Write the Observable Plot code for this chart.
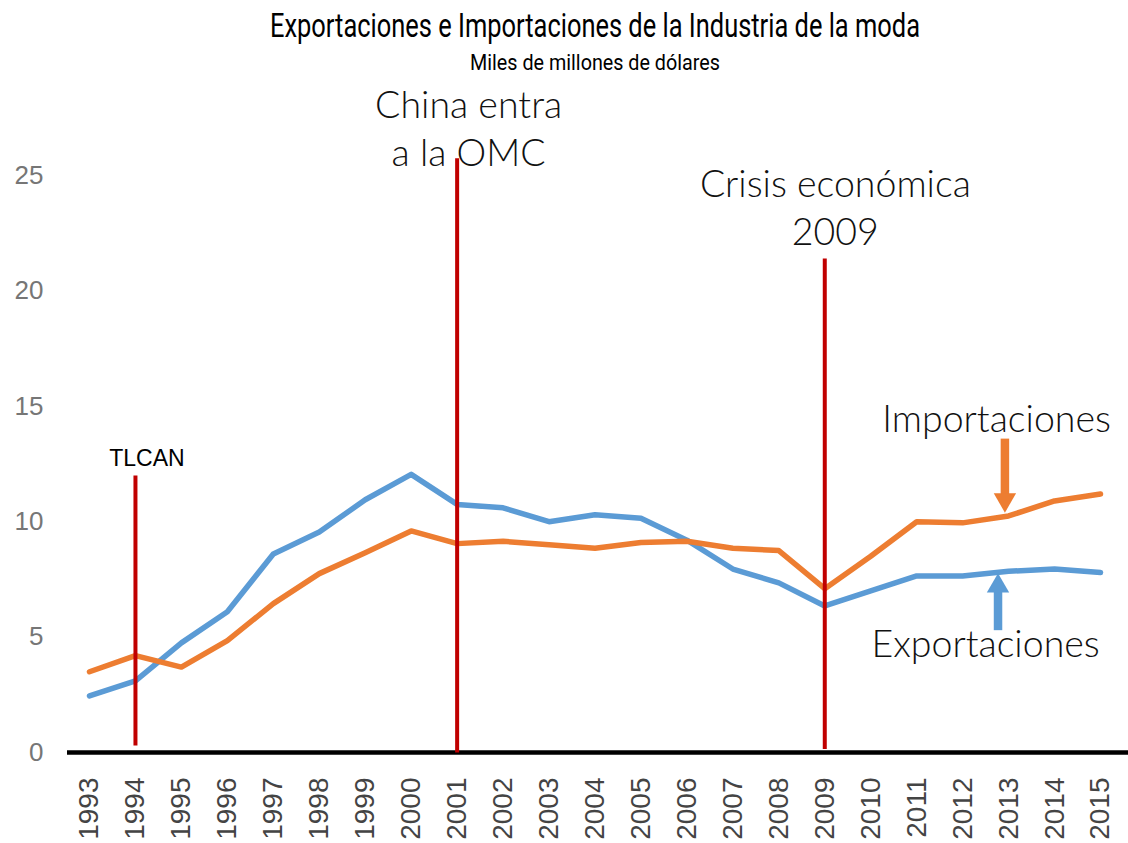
<!DOCTYPE html>
<html><head><meta charset="utf-8">
<script src="https://cdn.jsdelivr.net/npm/d3@7"></script>
<script src="https://cdn.jsdelivr.net/npm/@observablehq/plot@0.6"></script>
<style>
body{margin:0;background:#fff;}
#head{position:relative;width:1128px;height:80px;overflow:visible;}
.t{position:absolute;white-space:nowrap;transform-origin:0 0;color:#000;}
#title{font-family:Roboto,"Liberation Sans",sans-serif;font-weight:400;font-size:34px;line-height:34px;}
#sub{font-family:Roboto,"Liberation Sans",sans-serif;font-weight:400;font-size:22px;line-height:22px;}
#chart svg{display:block;}
</style></head><body>
<div id="head"><span id="title" class="t">Exportaciones e Importaciones de la Industria de la moda</span><span id="sub" class="t">Miles de millones de dólares</span></div>
<div id="chart"></div>
<script>
const years = [1993,1994,1995,1996,1997,1998,1999,2000,2001,2002,2003,2004,2005,2006,2007,2008,2009,2010,2011,2012,2013,2014,2015];
const exportaciones = [2.45,3.1,4.75,6.1,8.6,9.55,10.95,12.05,10.75,10.6,10.0,10.3,10.15,9.2,7.95,7.35,6.35,7.0,7.65,7.65,7.85,7.95,7.8];
const importaciones = [3.5,4.2,3.7,4.85,6.45,7.75,8.65,9.6,9.05,9.15,9.0,8.85,9.1,9.15,8.85,8.75,7.1,8.5,10.0,9.95,10.25,10.9,11.2];
const yTicks = [0,5,10,15,20,25];

const eventYears = [1994, 2001, 2009];
const eventTop = [12.0, 25.75, 21.4];
const eventBottom = [0.3, 0, 0.15];

const noteText = ["TLCAN", "China entra\na la OMC", "Crisis económica\n2009", "Importaciones", "Exportaciones"];
const noteX = [1994.25, 2001.25, 2009.23, 2012.74, 2012.5];
const noteY = [12.43, 25.4, 22.0, 13.9, 4.15];

const arrowX = [2012.92, 2012.77];
const arrowFrom = [13.6, 5.3];
const arrowTo = [10.4, 7.76];
const arrowColor = ["#ed7d31", "#5b9bd5"];

function fit(id, cx, top, w){
  const el = document.getElementById(id);
  const nat = el.getBoundingClientRect().width;
  el.style.left = (cx - w/2) + "px";
  el.style.top = top + "px";
  el.style.transform = `scaleX(${w/nat})`;
}
fit("title", 595, 8.4, 650);
fit("sub", 595, 51.5, 250);

const exp = years.map((y,i)=>({year:y, value:exportaciones[i]}));
const imp = years.map((y,i)=>({year:y, value:importaciones[i]}));
const events = eventYears.map((y,i)=>({year:y, top:eventTop[i], bottom:eventBottom[i]}));
const notes = noteText.map((t,i)=>({text:t, x:noteX[i], y:noteY[i]}));
const arrows = arrowX.map((x,i)=>({x, from:arrowFrom[i], to:arrowTo[i], color:arrowColor[i], down: arrowTo[i] < arrowFrom[i]}));

const lightFont = "Lato, 'Open Sans', sans-serif";

const chart = Plot.plot({
  width: 1128, height: 763,
  marginLeft: 89, marginRight: 28, marginTop: 95, marginBottom: 91,
  x: {domain: [1993, 2015]},
  y: {domain: [0, 25]},
  style: {fontFamily: "'Liberation Sans', Arial, sans-serif", background: "#fff", overflow: "visible"},
  marks: [
    Plot.axisY({ticks: yTicks, tickSize: 0, tickPadding: 46, fontSize: 26, color: "#767676", label: null}),
    Plot.axisX({ticks: years, tickFormat: d => String(d), tickRotate: -90, tickSize: 0, tickPadding: 25, fontSize: 28, color: "#444", label: null}),
    Plot.ruleY([0], {stroke: "#000", strokeWidth: 4.5, insetLeft: -22, insetRight: -28}),
    Plot.line(exp, {x: "year", y: "value", stroke: "#5b9bd5", strokeWidth: 5.5, strokeLinecap: "round", strokeLinejoin: "round"}),
    Plot.line(imp, {x: "year", y: "value", stroke: "#ed7d31", strokeWidth: 5.5, strokeLinecap: "round", strokeLinejoin: "round"}),
    Plot.link(events, {x1: "year", x2: "year", y1: "bottom", y2: "top", stroke: "#c00000", strokeWidth: 4}),
    Plot.arrow(arrows, {x1: "x", x2: "x", y1: "from", y2: "to", stroke: "color", strokeWidth: 8.5, headLength: 0, insetEnd: 18, strokeLinecap: "butt"}),
    Plot.dot(arrows.filter(d => d.down), {x: "x", y: "to", symbol: "triangle", r: 8.3, rotate: 180, fill: "color", stroke: "none", dy: -12.7}),
    Plot.dot(arrows.filter(d => !d.down), {x: "x", y: "to", symbol: "triangle", r: 8.3, fill: "color", stroke: "none", dy: 12.7}),
    Plot.text(notes.slice(0,1), {x: "x", y: "y", text: "text", fontSize: 23, fill: "#000", lineAnchor: "bottom"}),
    Plot.text(notes.slice(1), {x: "x", y: "y", text: "text", fontSize: 37.5, fontFamily: lightFont, fontWeight: 300, fill: "#111", lineAnchor: "bottom", lineHeight: 1.28, letterSpacing: "0.4px"})
  ]
});
document.getElementById("chart").appendChild(chart);
</script>
</body></html>
